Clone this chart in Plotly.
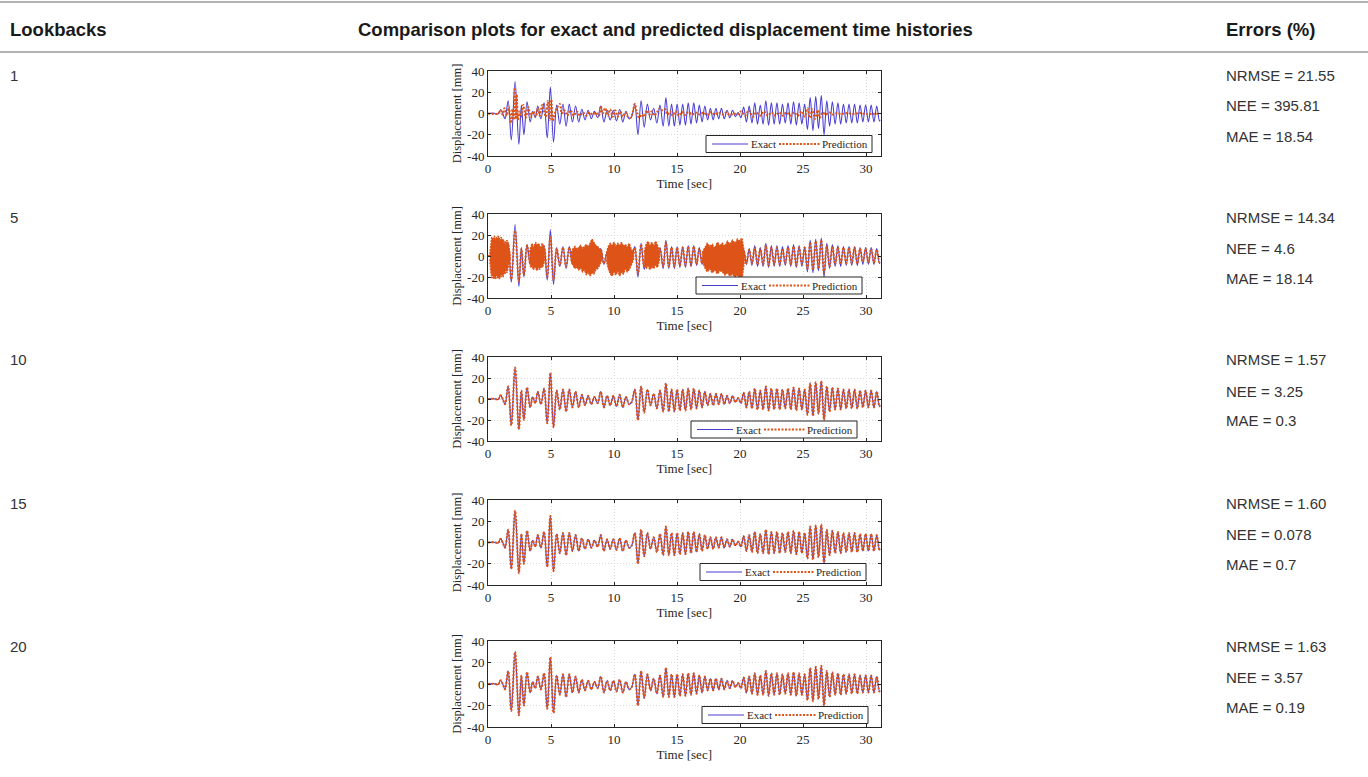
import plotly.graph_objects as go

# ---------------- data ----------------
lookbacks = ["1", "5", "10", "15", "20"]
nrmse = ["21.55", "14.34", "1.57", "1.60", "1.63"]
nee = ["395.81", "4.6", "3.25", "0.078", "3.57"]
mae = ["18.54", "18.14", "0.3", "0.7", "0.19"]

x_ticks = [0, 5, 10, 15, 20, 25, 30]
y_ticks = [-40, -20, 0, 20, 40]
y_ticktext = ["-40", "-20", "0", "20", "40"]

# exact displacement (extrema)
t_exact = [0, 0.5, 0.8, 1.0, 1.2, 1.35, 1.6, 1.85, 2.15, 2.45,
           2.65, 2.85, 3.1, 3.35, 3.55, 3.75, 3.95, 4.2, 4.45, 4.7,
           4.95, 5.2, 5.45, 5.7, 5.95, 6.2, 6.45, 6.7, 6.95, 7.2,
           7.45, 7.7, 7.95, 8.2, 8.45, 8.7, 8.95, 9.2, 9.45, 9.7,
           9.95, 10.2, 10.45, 10.7, 10.95, 11.2, 11.4, 11.65, 11.9, 12.15,
           12.4, 12.65, 12.9, 13.15, 13.4, 13.65, 13.9, 14.12, 14.35, 14.57,
           14.79, 15.01, 15.23, 15.45, 15.67, 15.89, 16.11, 16.33, 16.55, 16.77,
           16.99, 17.21, 17.43, 17.65, 17.87, 18.09, 18.31, 18.53, 18.75, 18.97,
           19.19, 19.41, 19.63, 19.85, 20.07, 20.29, 20.51, 20.73, 20.95, 21.17,
           21.39, 21.61, 21.83, 22.05, 22.27, 22.49, 22.71, 22.93, 23.15, 23.37,
           23.59, 23.81, 24.03, 24.25, 24.47, 24.69, 24.91, 25.13, 25.35, 25.57,
           25.79, 26.01, 26.23, 26.45, 26.67, 26.89, 27.11, 27.33, 27.55, 27.77,
           27.99, 28.21, 28.43, 28.65, 28.87, 29.09, 29.31, 29.53, 29.75, 29.97,
           30.19, 30.41, 30.63, 30.85, 31.07, 31.15]
d_exact = [0, 0.3, -0.5, 3.5, -1, -5, 12, -25, 30, -29,
           8, -20, 11, -8, 2, -4, 7, -5, 10, -23,
           25, -27, 8, -10, 9, -12, 9, -8, 7, -8,
           4, -6, 3, -5, 2, -4, 7, -8, 3, -6,
           3, -7, 4, -8, 2, -5, -3, 9, -20, 12,
           -13, 9, -6, 5, -9, 8, -12, 15, -12, 9,
           -12, 9, -11, 9, -11, 10, -10, 10, -9, 8,
           -8, 7, -6, 5, -6, 5, -5, 5, -5, 3,
           -4, 3, -3, 1, -4, 6, -8, 7, -9, 10,
           -10, 8, -10, 12, -11, 10, -10, 10, -10, 9,
           -9, 10, -10, 11, -11, 10, -10, 9, -15, 15,
           -16, 16, -14, 17, -20, 12, -12, 11, -10, 10,
           -10, 9, -9, 9, -9, 9, -9, 8, -8, 8,
           -8, 8, -8, 7, -7, -6]

# prediction, lookback 1
t_pred1 = [0, 0.8, 1.0, 1.15, 1.3, 1.5, 1.65, 1.82, 1.95, 2.05,
           2.12, 2.2, 2.28, 2.38, 2.5, 2.62, 2.8, 3.0, 3.2, 3.4,
           3.6, 3.8, 3.95, 4.1, 4.3, 4.45, 4.6, 4.75, 4.9, 5.02,
           5.15, 5.3, 5.5, 5.7, 5.85, 6.05, 6.3, 6.55, 6.8, 7.05,
           7.3, 7.55, 7.8, 8.05, 8.3, 8.55, 8.8, 8.95, 9.1, 9.3,
           9.5, 9.7, 9.9, 10.1, 10.3, 10.5, 10.7, 10.9, 11.1, 11.3,
           11.5, 11.65, 11.8, 12.0, 12.2, 12.4, 12.6, 12.8, 13.0, 13.2,
           13.4, 13.65, 13.85, 14.05, 14.25, 14.45, 14.65, 14.9, 15.15, 15.4,
           15.65, 15.9, 16.2, 16.5, 16.8, 17.1, 17.4, 17.7, 18.0, 18.3,
           18.6, 18.9, 19.2, 19.5, 19.8, 20.1, 20.4, 20.7, 21.0, 21.3,
           21.6, 21.9, 22.2, 22.5, 22.8, 23.1, 23.4, 23.7, 24.0, 24.3,
           24.6, 24.9, 25.15, 25.35, 25.55, 25.75, 25.95, 26.15, 26.35, 26.55,
           26.8, 27.1, 27.4, 27.7, 28.0, 28.5, 29.0, 29.5, 30.0, 31.15]
d_pred1 = [0, 0, 3, -1, 5, -2, 6, -9, 4, -6,
           24, -5, 18, -6, 2, -3, 8, -4, 6, -3,
           2, -3, 5, -2, 8, 2, -3, 12, -6, 13,
           -7, 0, 6, 9, 0, 3, -2, 3, -2, 2,
           -2, 1, -2, 1, -1, 1, -2, 7, 0, 5,
           -2, 4, -3, 3, -3, 2, -3, 1, -3, -4,
           2, 9, 2, -4, -1, -3, 3, -1, 2, -2,
           1, 5, 3, 4, -1, 2, -2, 2, -2, 1.5,
           -1.5, 1.5, -1, 1, -1, 1, -1.5, 1.5, -1, 1,
           -1, 1, -1.5, 0, -1, 2, -2, 3, -3, 1,
           -2, 2, -2, 1, -2, 1, -2, 1, -2, 1,
           -2, 2, -3, 5, -4, 4, -5, 3, -4, 1,
           -1, 1, -1, 0.5, -0.5, 0.5, -0.5, 0.5, -0.5, 0]

# prediction, lookback 5 (same time instants as exact)
d_pred5 = [0, 0.3, -0.5, 3, -1, -5, 11, -22, 24, -24,
           7, -18, 10, -7, 2, -4, 6, -5, 9, -20,
           19, -23, 7, -9, 8, -10, 8, -7, 6, -7,
           4, -5, 3, -4, 2, -4, 6, -7, 3, -5,
           3, -6, 4, -7, 2, -4, -3, 8, -17, 11,
           -11, 8, -5, 5, -8, 7, -10, 13, -10, 8,
           -10, 8, -9, 8, -9, 9, -9, 9, -8, 7,
           -7, 6, -5, 5, -5, 4, -4, 4, -4, 3,
           -3, 3, -3, 1, -3, 5, -7, 6, -7, 8,
           -8, 7, -8, 10, -9, 8, -8, 8, -8, 7,
           -7, 8, -8, 9, -9, 8, -8, 8, -12, 13,
           -13, 14, -12, 15, -16, 10, -10, 9, -8, 8,
           -8, 8, -7, 8, -7, 8, -7, 7, -6, 7,
           -6, 7, -6, 6, -6, -5]

# noisy bands of the lookback-5 prediction (time, upper, lower envelope)
band_a_t = [0.15, 0.22, 0.3, 0.38, 0.45, 0.52, 0.6, 0.68, 0.75, 0.82, 0.9, 0.98, 1.05, 1.12, 1.2, 1.28, 1.35, 1.42, 1.5, 1.58, 1.65, 1.75]
band_a_up = [2, 12, 18, 15, 17, 19, 14, 18, 16, 19, 17, 13, 18, 15, 16, 12, 14, 10, 15, 13, 8, 2]
band_a_lo = [-3, -14, -21, -18, -22, -19, -22, -17, -21, -19, -22, -18, -20, -16, -20, -13, -17, -12, -16, -14, -8, -2]
band_b_t = [3.3, 3.4, 3.5, 3.6, 3.7, 3.8, 3.9, 4.0, 4.1, 4.2, 4.3, 4.4, 4.5]
band_b_up = [4, 9, 12, 8, 11, 13, 9, 12, 10, 7, 12, 9, 4]
band_b_lo = [-4, -11, -9, -13, -10, -12, -14, -10, -13, -9, -11, -8, -4]
band_c_t = [6.6, 6.75, 6.9, 7.05, 7.2, 7.35, 7.5, 7.65, 7.8, 7.95, 8.1, 8.25, 8.4, 8.55, 8.7, 8.85, 9.05]
band_c_up = [3, 7, 9, 6, 8, 10, 7, 9, 11, 8, 12, 16, 13, 10, 9, 7, 3]
band_c_lo = [-4, -9, -12, -10, -13, -11, -15, -13, -18, -15, -19, -16, -17, -13, -12, -9, -3]
band_d_t = [9.4, 9.55, 9.7, 9.85, 10.0, 10.15, 10.3, 10.45, 10.6, 10.75, 10.9, 11.05, 11.2, 11.35, 11.55]
band_d_up = [3, 9, 12, 10, 13, 9, 12, 10, 13, 9, 11, 8, 12, 7, 3]
band_d_lo = [-4, -12, -17, -19, -15, -18, -14, -19, -15, -17, -12, -15, -13, -9, -3]
band_e_t = [12.4, 12.55, 12.7, 12.85, 13.0, 13.15, 13.3, 13.45, 13.6]
band_e_up = [4, 11, 14, 10, 13, 9, 14, 10, 4]
band_e_lo = [-4, -12, -9, -13, -10, -12, -8, -11, -4]
band_f_t = [17.0, 17.2, 17.4, 17.6, 17.8, 18.0, 18.2, 18.4, 18.6, 18.8, 19.0, 19.2, 19.4, 19.6, 19.8, 20.0, 20.15, 20.35]
band_f_up = [3, 8, 12, 9, 11, 7, 13, 10, 12, 9, 14, 11, 15, 12, 16, 14, 17, 3]
band_f_lo = [-4, -11, -15, -12, -16, -13, -17, -14, -15, -18, -16, -19, -17, -20, -18, -22, -23, -4]

bands5 = [(band_a_t, band_a_up, band_a_lo), (band_b_t, band_b_up, band_b_lo),
          (band_c_t, band_c_up, band_c_lo), (band_d_t, band_d_up, band_d_lo),
          (band_e_t, band_e_up, band_e_lo), (band_f_t, band_f_up, band_f_lo)]

# ---------------- layout geometry ----------------
W, H = 1368, 777
BLUE = "#4b3fd1"
ORANGE = "#dd5318"
SERIF = "Liberation Serif, Times New Roman, serif"
SANS = "Liberation Sans, Arial, sans-serif"

plot_left, plot_right = 488, 880.5
plot_tops = [71, 214, 357, 500, 641]
plot_bots = [156, 298, 441, 585, 727]
legend_right = [872, 862, 857, 866, 868]
legend_mid = [144, 285.5, 429.5, 572, 715]
row_y = [75, 217, 360, 503, 646]

def px(x):
    return x / W

def py(y):
    return 1 - y / H

preds = [(t_pred1, d_pred1), (t_exact, d_pred5), (t_exact, d_exact), (t_exact, d_exact), (t_exact, d_exact)]

fig = go.Figure()
shapes = []
annotations = []

for i in range(5):
    k = "" if i == 0 else str(i + 1)
    xa, ya = "x" + k, "y" + k
    fig.add_trace(go.Scatter(x=t_exact, y=d_exact, mode="lines", name="Exact",
                             line=dict(color=BLUE, width=1.1, shape="spline", smoothing=1.0),
                             xaxis=xa, yaxis=ya, showlegend=False))
    tp, dp = preds[i]
    fig.add_trace(go.Scatter(x=tp, y=dp, mode="lines", name="Prediction",
                             line=dict(color=ORANGE, width=2, dash="2px,1.5px", shape="spline", smoothing=1.0),
                             xaxis=xa, yaxis=ya, showlegend=False))
    if i == 1:
        for bt, bu, bl in bands5:
            fig.add_trace(go.Scatter(x=bt + bt[::-1], y=bu + bl[::-1], mode="lines",
                                     fill="toself", fillcolor=ORANGE,
                                     line=dict(color=ORANGE, width=1.5, dash="2px,1px"),
                                     showlegend=False, hoverinfo="skip",
                                     xaxis=xa, yaxis=ya))
    axis_line = dict(showline=True, mirror="ticks", linecolor="#262626", linewidth=1,
                     ticks="inside", ticklen=3, tickcolor="#262626",
                     showgrid=True, gridcolor="#d9d9d9", griddash="1px,2px", gridwidth=1,
                     zeroline=False, automargin=False,
                     tickfont=dict(family=SERIF, size=13, color="#262626"))
    fig.update_layout({
        "xaxis" + k: dict(domain=[px(plot_left), px(plot_right)], range=[0, 31.15],
                          tickvals=x_ticks, anchor=ya,
                          title=dict(text="Time [sec]", font=dict(family=SERIF, size=13, color="#262626"), standoff=0),
                          **axis_line),
        "yaxis" + k: dict(domain=[py(plot_bots[i]), py(plot_tops[i])], range=[-40, 40],
                          tickvals=y_ticks, ticktext=y_ticktext, anchor=xa,
                          title=dict(text="Displacement [mm]", font=dict(family=SERIF, size=12.5, color="#262626"), standoff=2),
                          **axis_line),
    })

    # legend box drawn inside each panel
    R, M = legend_right[i], legend_mid[i]
    shapes.append(dict(type="rect", xref="paper", yref="paper",
                       x0=px(R - 166), x1=px(R), y0=py(M + 8.5), y1=py(M - 8.5),
                       line=dict(color="#262626", width=1), fillcolor="white", layer="above"))
    shapes.append(dict(type="line", xref="paper", yref="paper",
                       x0=px(R - 160), x1=px(R - 124), y0=py(M), y1=py(M),
                       line=dict(color=BLUE, width=1.1), layer="above"))
    shapes.append(dict(type="line", xref="paper", yref="paper",
                       x0=px(R - 93), x1=px(R - 52), y0=py(M), y1=py(M),
                       line=dict(color=ORANGE, width=2, dash="2px,1.5px"), layer="above"))
    annotations.append(dict(x=px(R - 108.5), y=py(M), xref="paper", yref="paper", text="Exact",
                            showarrow=False, xanchor="center", yanchor="middle", borderpad=0,
                            font=dict(family=SERIF, size=11, color="#262626")))
    annotations.append(dict(x=px(R - 27), y=py(M), xref="paper", yref="paper", text="Prediction",
                            showarrow=False, xanchor="center", yanchor="middle", borderpad=0,
                            font=dict(family=SERIF, size=11, color="#262626")))

def add_text(x, y, text, size=15, bold=False, color="#333333", anchor="left"):
    annotations.append(dict(x=px(x), y=py(y), xref="paper", yref="paper", text=text,
                            showarrow=False, xanchor=anchor, yanchor="middle",
                            font=dict(family=SANS, size=size, color=color,
                                      weight="bold" if bold else "normal")))

add_text(8, 29, "Lookbacks", size=18.5, bold=True, color="#1a1a1a")
add_text(665, 29, "Comparison plots for exact and predicted displacement time histories",
         size=18.5, bold=True, color="#1a1a1a", anchor="center")
add_text(1224, 29, "Errors (%)", size=18.5, bold=True, color="#1a1a1a")
for i in range(5):
    add_text(8, row_y[i], lookbacks[i])
    add_text(1224, row_y[i], "NRMSE = " + nrmse[i])
    add_text(1224, row_y[i] + 31, "NEE = " + nee[i])
    add_text(1224, row_y[i] + 61, "MAE = " + mae[i])

shapes.append(dict(type="line", xref="paper", yref="paper", x0=0, x1=1, y0=py(2), y1=py(2),
                   line=dict(color="#9a9a9a", width=1.5)))
shapes.append(dict(type="line", xref="paper", yref="paper", x0=0, x1=1, y0=py(52), y1=py(52),
                   line=dict(color="#9a9a9a", width=1.5)))

fig.update_layout(width=W, height=H, autosize=False, margin=dict(l=0, r=0, t=0, b=0),
                  paper_bgcolor="white", plot_bgcolor="white", showlegend=False,
                  annotations=annotations, shapes=shapes)

fig.write_html("out.html", config={"displayModeBar": False},
               post_script="document.body.style.margin='0';")
